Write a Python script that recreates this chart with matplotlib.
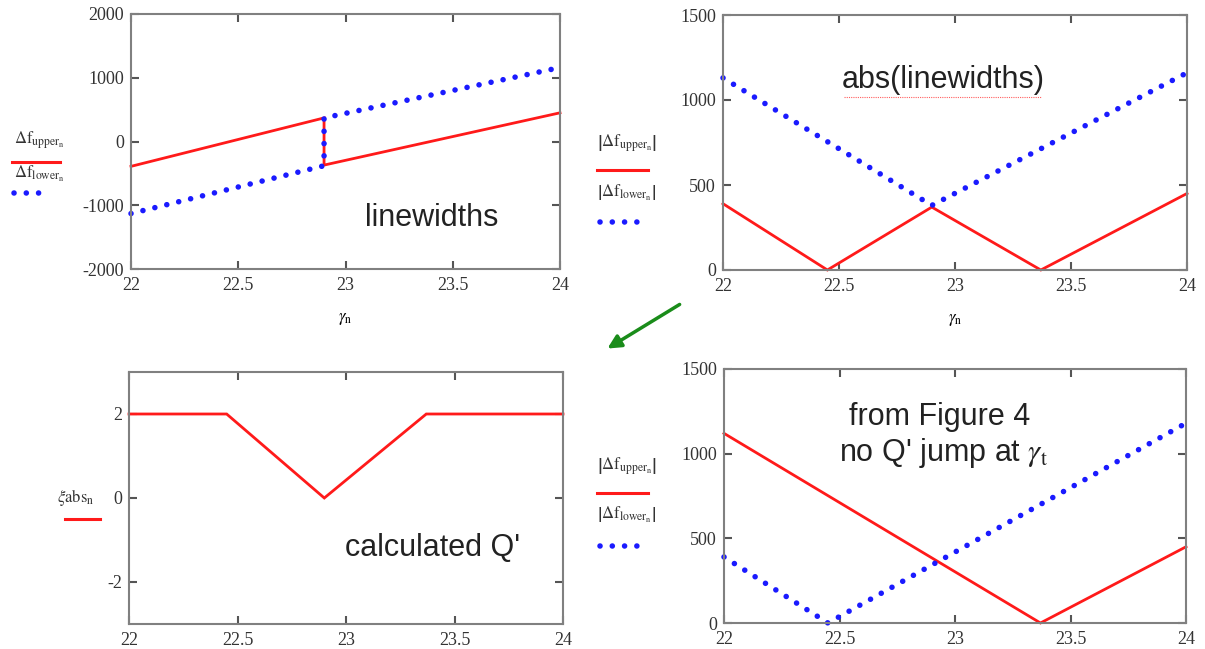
import matplotlib
matplotlib.use("Agg")
import matplotlib.pyplot as plt
from matplotlib.lines import Line2D

plt.rcParams['mathtext.fontset'] = 'stix'
plt.rcParams['font.family'] = ['Liberation Serif', 'DejaVu Serif']
plt.rcParams['axes.unicode_minus'] = False

# 데이터 (그림에서 읽은 꼭짓점 값)
gamma_jump = [22.0, 22.9, 22.9, 24.0]
upper_lw = [-390, 370, -370, 450]
lower_lw = [-1130, -380, 370, 1160]

gamma_abs_up = [22.0, 22.45, 22.9, 23.37, 24.0]
abs_upper = [390, 0, 370, 0, 450]
gamma_abs_lo = [22.0, 22.9, 24.0]
abs_lower = [1130, 380, 1160]

gamma_q = [22.0, 22.45, 22.9, 23.37, 24.0]
xi_abs = [2, 2, 0, 2, 2]

gamma_fig4_up = [22.0, 23.37, 24.0]
fig4_upper = [1120, 0, 450]
gamma_fig4_lo = [22.0, 22.45, 24.0]
fig4_lower = [390, 0, 1180]

x_ticks = [22, 22.5, 23, 23.5, 24]
x_ticklabels = ['22', '22.5', '23', '23.5', '24']

RED = '#ff1a1a'
BLUE = '#1a1aff'
GRAY = '#808080'
W, H = 1205, 649

fig = plt.figure(figsize=(12.05, 6.49), dpi=100)


def px_axes(l, t, r, b):
    return fig.add_axes([l / W, 1 - b / H, (r - l) / W, (b - t) / H])


def style(ax, ylim, yticks):
    ax.set_xlim(22, 24)
    ax.set_ylim(*ylim)
    ax.set_xticks(x_ticks)
    ax.set_xticklabels(x_ticklabels)
    ax.set_yticks(yticks)
    ax.tick_params(direction='in', top=True, right=True, length=6, width=1.5,
                   color='#555555', labelsize=13, labelcolor='#333333')
    ax.tick_params(axis='x', pad=6)
    ax.tick_params(axis='y', pad=5)
    for s in ax.spines.values():
        s.set_color(GRAY)
        s.set_linewidth(1.5)


def red(ax, x, y):
    ax.plot(x, y, color=RED, lw=2.0, solid_joinstyle='miter', clip_on=False)


def blue(ax, x, y):
    ax.plot(x, y, color=BLUE, lw=4, linestyle=(0, (0.01, 2.2)),
            dash_capstyle='round', clip_on=False)


def legend_line(x0, x1, y, kind):
    if kind == 'red':
        fig.add_artist(Line2D([x0 / W, x1 / W], [1 - y / H, 1 - y / H],
                              color=RED, lw=2.2))
    else:
        fig.add_artist(Line2D([x0 / W, x1 / W], [1 - y / H, 1 - y / H],
                              color=BLUE, lw=4, linestyle=(0, (0.01, 2.2)),
                              dash_capstyle='round'))


def ftext(x, y, s, **kw):
    fig.text(x / W, 1 - y / H, s, **kw)


sans = dict(family=['Liberation Sans', 'DejaVu Sans'], fontsize=22, color='#222222')
leg = dict(fontsize=12, va='center', color='#333333')

# 1. linewidths
ax1 = px_axes(131, 14, 560, 269)
red(ax1, gamma_jump, upper_lw)
blue(ax1, gamma_jump, lower_lw)
style(ax1, (-2000, 2000), [-2000, -1000, 0, 1000, 2000])
ax1.text(0.70, 0.20, 'linewidths', transform=ax1.transAxes, ha='center', va='center', **sans)
ax1.set_xlabel(r'$\gamma_\mathrm{n}$', fontsize=12, labelpad=12)

ftext(14, 140, r'$\Delta\mathrm{f}_{\mathrm{upper}_{\mathrm{n}}}$', **leg)
legend_line(12, 60, 162, 'red')
ftext(14, 174, r'$\Delta\mathrm{f}_{\mathrm{lower}_{\mathrm{n}}}$', **leg)
legend_line(14, 50, 193, 'blue')

# 2. abs(linewidths)
ax2 = px_axes(723, 15, 1187, 270)
red(ax2, gamma_abs_up, abs_upper)
blue(ax2, gamma_abs_lo, abs_lower)
style(ax2, (0, 1500), [0, 500, 1000, 1500])
ax2.text(0.474, 0.745, 'abs(linewidths)', transform=ax2.transAxes, ha='center', va='center', **sans)
ax2.plot([0.26, 0.685], [0.68, 0.68], transform=ax2.transAxes, color=RED,
         lw=0.8, linestyle=(0, (1, 1)), alpha=0.7)
ax2.set_xlabel(r'$\gamma_\mathrm{n}$', fontsize=12, labelpad=12)

ftext(597, 143, r'$\left|\Delta\mathrm{f}_{\mathrm{upper}_{\mathrm{n}}}\right|$', **leg)
legend_line(597, 648, 170, 'red')
ftext(597, 193, r'$\left|\Delta\mathrm{f}_{\mathrm{lower}_{\mathrm{n}}}\right|$', **leg)
legend_line(600, 637, 222, 'blue')

# 3. calculated Q'
ax3 = px_axes(129, 372, 563, 624)
red(ax3, gamma_q, xi_abs)
style(ax3, (-3, 3), [-2, 0, 2])
ax3.text(0.70, 0.30, "calculated Q'", transform=ax3.transAxes, ha='center', va='center', **sans)

ftext(57, 497, r'$\xi\mathrm{abs}_\mathrm{n}$', **leg)
legend_line(65, 100, 519, 'red')

# 4. from Figure 4
ax4 = px_axes(724, 369, 1186, 623)
red(ax4, gamma_fig4_up, fig4_upper)
blue(ax4, gamma_fig4_lo, fig4_lower)
style(ax4, (0, 1500), [0, 500, 1000, 1500])
ax4.text(0.467, 0.81, 'from Figure 4', transform=ax4.transAxes, ha='center', va='center', **sans)
ax4.text(0.475, 0.67, r"no Q' jump at $\gamma_\mathrm{t}$", transform=ax4.transAxes,
         ha='center', va='center', **sans)

ftext(597, 466, r'$\left|\Delta\mathrm{f}_{\mathrm{upper}_{\mathrm{n}}}\right|$', **leg)
legend_line(597, 648, 493, 'red')
ftext(597, 515, r'$\left|\Delta\mathrm{f}_{\mathrm{lower}_{\mathrm{n}}}\right|$', **leg)
legend_line(600, 637, 546, 'blue')

# 초록 화살표
fig.add_artist(matplotlib.patches.FancyArrowPatch(
    (682 / W, 1 - 303 / H), (605 / W, 1 - 350 / H), transform=fig.transFigure,
    arrowstyle='-|>', mutation_scale=20, color='#1a8c1a', lw=2.5))

fig.savefig('out.png', dpi=100, facecolor='white')
